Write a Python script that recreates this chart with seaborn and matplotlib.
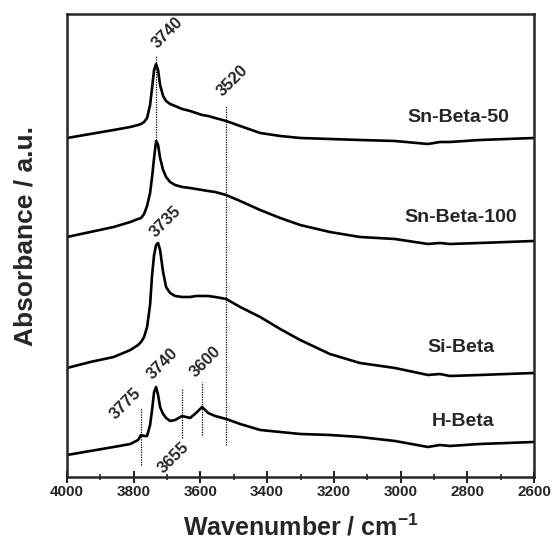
import numpy as np
import pandas as pd
import matplotlib
matplotlib.use("Agg")
import matplotlib.pyplot as plt
import seaborn as sns

# %% data (arbitrary absorbance units)
wavenumber = [4000, 3930, 3860, 3810, 3787, 3778, 3769, 3760, 3751, 3745, 3739,
              3733, 3727, 3721, 3712, 3703, 3691, 3676, 3655, 3631, 3613, 3595,
              3577, 3556, 3523, 3481, 3421, 3361, 3301, 3212, 3122, 3017, 2918,
              2882, 2852, 2762, 2600]

sn_beta_50 = [3.39, 3.43, 3.47, 3.50, 3.52, 3.53, 3.55, 3.59, 3.72, 3.89, 4.07,
              4.13, 4.07, 3.92, 3.81, 3.76, 3.73, 3.71, 3.68, 3.66, 3.64, 3.62,
              3.61, 3.59, 3.56, 3.51, 3.44, 3.41, 3.39, 3.38, 3.37, 3.36, 3.33,
              3.35, 3.35, 3.37, 3.39]

sn_beta_100 = [2.40, 2.45, 2.50, 2.55, 2.58, 2.59, 2.63, 2.71, 2.84, 3.00, 3.19,
               3.36, 3.32, 3.19, 3.07, 3.00, 2.95, 2.92, 2.90, 2.89, 2.88, 2.87,
               2.86, 2.85, 2.82, 2.76, 2.67, 2.59, 2.52, 2.45, 2.40, 2.38, 2.33,
               2.34, 2.33, 2.34, 2.36]

si_beta = [1.09, 1.15, 1.20, 1.27, 1.32, 1.35, 1.40, 1.50, 1.72, 2.02, 2.22,
           2.32, 2.34, 2.27, 2.05, 1.90, 1.84, 1.81, 1.80, 1.80, 1.81, 1.81,
           1.81, 1.80, 1.78, 1.70, 1.60, 1.48, 1.37, 1.23, 1.14, 1.09, 1.02,
           1.03, 1.01, 1.02, 1.04]

h_beta = [0.22, 0.26, 0.30, 0.33, 0.37, 0.42, 0.41, 0.41, 0.52, 0.67, 0.85,
          0.90, 0.82, 0.70, 0.63, 0.59, 0.56, 0.57, 0.61, 0.59, 0.64, 0.70,
          0.64, 0.61, 0.58, 0.53, 0.47, 0.45, 0.43, 0.42, 0.40, 0.36, 0.30,
          0.32, 0.31, 0.33, 0.35]

samples = ["Sn-Beta-50", "Sn-Beta-100", "Si-Beta", "H-Beta"]
sample_label_x = [2828, 2819, 2819, 2813]
sample_label_y = [3.59, 2.59, 1.29, 0.55]

# dotted marker lines: position, top, bottom
mark_pos = [3733, 3523, 3778, 3655, 3595]
mark_top = [4.22, 3.72, 0.69, 0.89, 0.95]
mark_bottom = [3.37, 0.32, 0.12, 0.39, 0.42]

# band labels
band_text = ["3740", "3520", "3735", "3775", "3740", "3600", "3655"]
band_x = [3700, 3505, 3706, 3826, 3715, 3586, 3682]
band_y = [4.44, 3.96, 2.55, 0.73, 1.13, 1.15, 0.19]

# %% long table for seaborn
df = pd.concat([
    pd.DataFrame({"Wavenumber": wavenumber, "Absorbance": vals, "Sample": name})
    for name, vals in zip(samples, [sn_beta_50, sn_beta_100, si_beta, h_beta])
])

# %% plot
sns.set_style("ticks")
plt.rcParams["font.family"] = ["Liberation Sans", "DejaVu Sans"]
plt.rcParams["mathtext.fontset"] = "custom"
plt.rcParams["mathtext.rm"] = "Liberation Sans"
plt.rcParams["mathtext.bf"] = "Liberation Sans:bold"

fig = plt.figure(figsize=(5.53, 5.40), dpi=100)
ax = fig.add_axes([0.1212, 0.1167, 0.8444, 0.8574])

sns.lineplot(data=df, x="Wavenumber", y="Absorbance", hue="Sample",
             palette={s: "black" for s in samples}, legend=False,
             estimator=None, sort=False, linewidth=1.9, ax=ax)

for p, t, b in zip(mark_pos, mark_top, mark_bottom):
    ax.plot([p, p], [b, t], color="black", lw=0.9, ls=(0, (1, 1)))

for s, x, y in zip(samples, sample_label_x, sample_label_y):
    ax.text(x, y, s, ha="center", va="center", fontsize=14, fontweight="bold")

for s, x, y in zip(band_text, band_x, band_y):
    ax.text(x, y, s, ha="center", va="center", rotation=45,
            fontsize=12, fontweight="bold")

ax.set_xlim(4000, 2600)
ax.set_ylim(0, 4.63)
ax.set_xticks(np.arange(4000, 2599, -200))
ax.set_xticks(np.arange(3900, 2600, -200), minor=True)
ax.set_yticks([])
ax.tick_params(axis="x", which="major", direction="inout", length=8, width=1.5,
               labelsize=11, pad=2)
ax.tick_params(axis="x", which="minor", direction="inout", length=5, width=1.2)
for lbl in ax.get_xticklabels():
    lbl.set_fontweight("bold")
for sp in ax.spines.values():
    sp.set_linewidth(1.8)

ax.set_xlabel(r"Wavenumber / cm$^{\mathbf{-1}}$", fontsize=18,
              fontweight="bold", labelpad=11)
ax.set_ylabel("Absorbance / a.u.", fontsize=19, fontweight="bold")
ax.yaxis.set_label_coords(-0.064, 0.52)

fig.savefig("out.png", dpi=100)
